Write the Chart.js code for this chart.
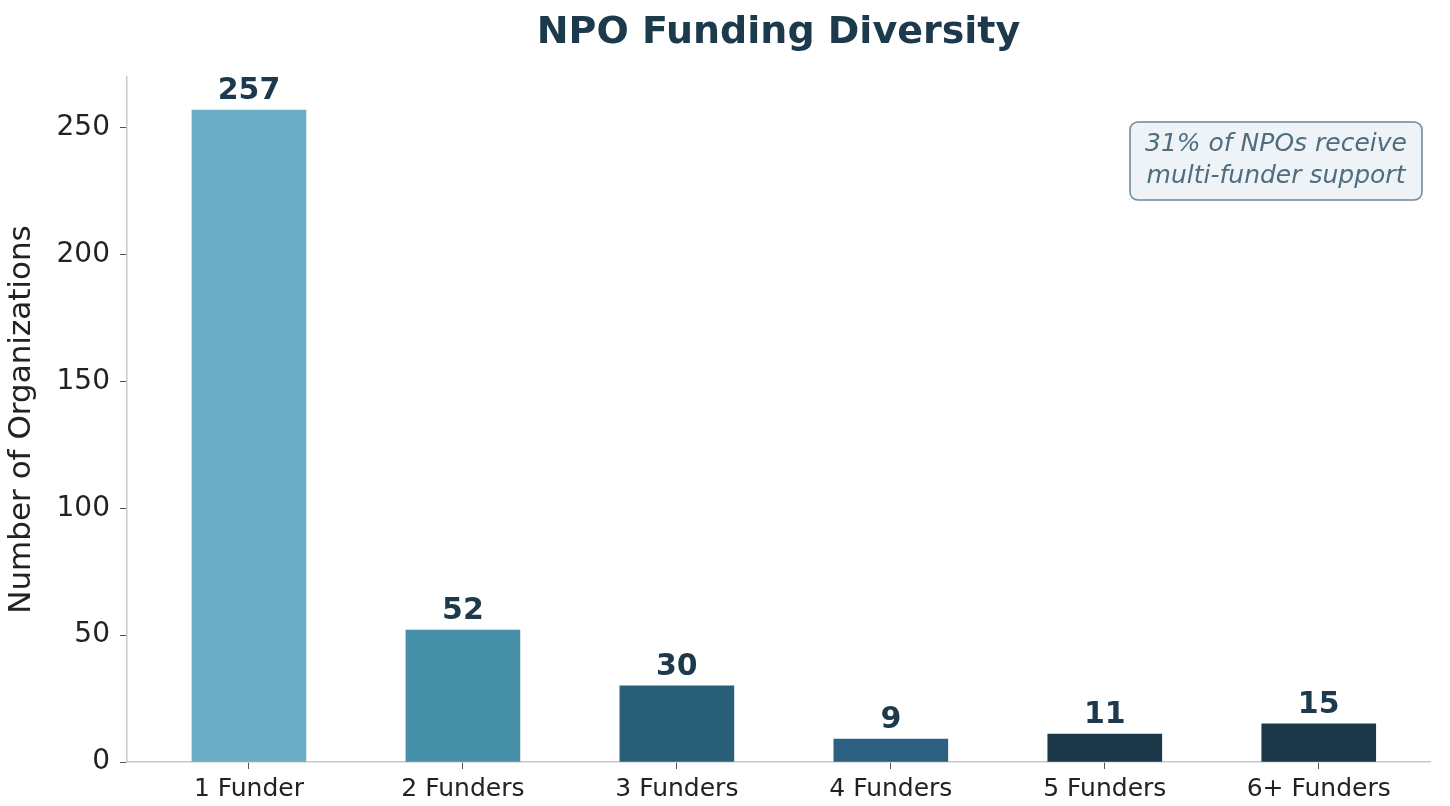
<!DOCTYPE html>
<html>
<head>
<meta charset="utf-8">
<title>NPO Funding Diversity</title>
<script src="https://cdn.jsdelivr.net/npm/chart.js@4.4.1/dist/chart.umd.min.js"></script>
<style>
  html, body { margin: 0; padding: 0; background: #fff; }
  #wrap { width: 1450px; height: 806px; }
</style>
</head>
<body>
<div id="wrap"><canvas id="fundChart" width="1450" height="806"></canvas></div>
<script>
const categories = ['1 Funder', '2 Funders', '3 Funders', '4 Funders', '5 Funders', '6+ Funders'];
const orgCounts = [257, 52, 30, 9, 11, 15];
const barColors = ['#6aaec6', '#4791a8', '#295f79', '#2c5f80', '#1b3849', '#1b3849'];
const yTicks = [0, 50, 100, 150, 200, 250];
const chartTitle = 'NPO Funding Diversity';
const noteLines = ['31% of NPOs receive', 'multi-funder support'];

const font = '"DejaVu Sans", sans-serif';
const axisGray = '#c8c8c8';

// title centred over the plot area rather than the whole canvas
const plotTitle = {
    id: 'plotTitle',
    afterDraw(chart) {
        const ctx = chart.ctx;
        const area = chart.chartArea;
        ctx.save();
        ctx.font = 'bold 38px ' + font;
        ctx.fillStyle = '#1c3a4c';
        ctx.textAlign = 'center';
        ctx.textBaseline = 'middle';
        ctx.fillText(chartTitle, (area.left + area.right) / 2, 33);
        ctx.restore();
    }
};

// value above each bar
const valueLabels = {
    id: 'valueLabels',
    afterDatasetsDraw(chart) {
        const ctx = chart.ctx;
        const meta = chart.getDatasetMeta(0);
        ctx.save();
        ctx.font = 'bold 30px ' + font;
        ctx.fillStyle = '#1c3a4c';
        ctx.textAlign = 'center';
        ctx.textBaseline = 'bottom';
        meta.data.forEach((bar, i) => {
            ctx.fillText(String(orgCounts[i]), bar.x, bar.y - 4);
        });
        ctx.restore();
    }
};

// note box in the upper right corner
const noteBox = {
    id: 'noteBox',
    afterDraw(chart) {
        const ctx = chart.ctx;
        const area = chart.chartArea;
        const w = 292, h = 78;
        const x = area.right - w - 8, y = area.top + 45;
        ctx.save();
        ctx.beginPath();
        ctx.roundRect(x, y, w, h, 8);
        ctx.fillStyle = '#eef3f7';
        ctx.fill();
        ctx.lineWidth = 1.5;
        ctx.strokeStyle = '#6b8696';
        ctx.stroke();
        ctx.font = 'italic 25px ' + font;
        ctx.fillStyle = '#4f6d7e';
        ctx.textAlign = 'center';
        ctx.textBaseline = 'middle';
        ctx.fillText(noteLines[0], x + w / 2, y + 22);
        ctx.fillText(noteLines[1], x + w / 2, y + 54);
        ctx.restore();
    }
};

const ctx = document.getElementById('fundChart').getContext('2d');
const fundChart = new Chart(ctx, {
    type: 'bar',
    data: {
        datasets: [{
            data: orgCounts.map((v, i) => ({ x: i, y: v })),
            backgroundColor: barColors,
            borderWidth: 0,
            barThickness: 114
        }]
    },
    options: {
        responsive: false,
        animation: false,
        layout: { padding: { left: 0, right: 20, top: 77, bottom: 0 } },
        plugins: {
            legend: { display: false },
            tooltip: { enabled: false },
            title: { display: false }
        },
        scales: {
            x: {
                type: 'linear',
                offset: false,
                min: -0.57,
                max: 5.52,
                afterBuildTicks: scale => { scale.ticks = categories.map((c, i) => ({ value: i })); },
                afterFit: scale => { scale.height = 44; },
                ticks: {
                    callback: v => categories[v],
                    color: '#222',
                    font: { family: font, size: 25 },
                    padding: 5
                },
                grid: { display: true, offset: false, drawOnChartArea: false, tickLength: 7, color: '#555', tickWidth: 1 },
                border: { display: true, color: axisGray, width: 1.5 }
            },
            y: {
                min: 0,
                max: 270,
                afterBuildTicks: scale => { scale.ticks = yTicks.map(v => ({ value: v })); },
                afterFit: scale => { scale.width = 127; },
                ticks: {
                    color: '#222',
                    font: { family: font, size: 28 },
                    padding: 10
                },
                grid: { display: true, drawOnChartArea: false, tickLength: 7, color: '#555', tickWidth: 1 },
                border: { display: true, color: axisGray, width: 1.5 },
                title: {
                    display: true,
                    text: 'Number of Organizations',
                    color: '#222',
                    font: { family: font, size: 31 },
                    padding: { top: 3, bottom: 4 }
                }
            }
        }
    },
    plugins: [plotTitle, valueLabels, noteBox]
});
</script>
</body>
</html>
